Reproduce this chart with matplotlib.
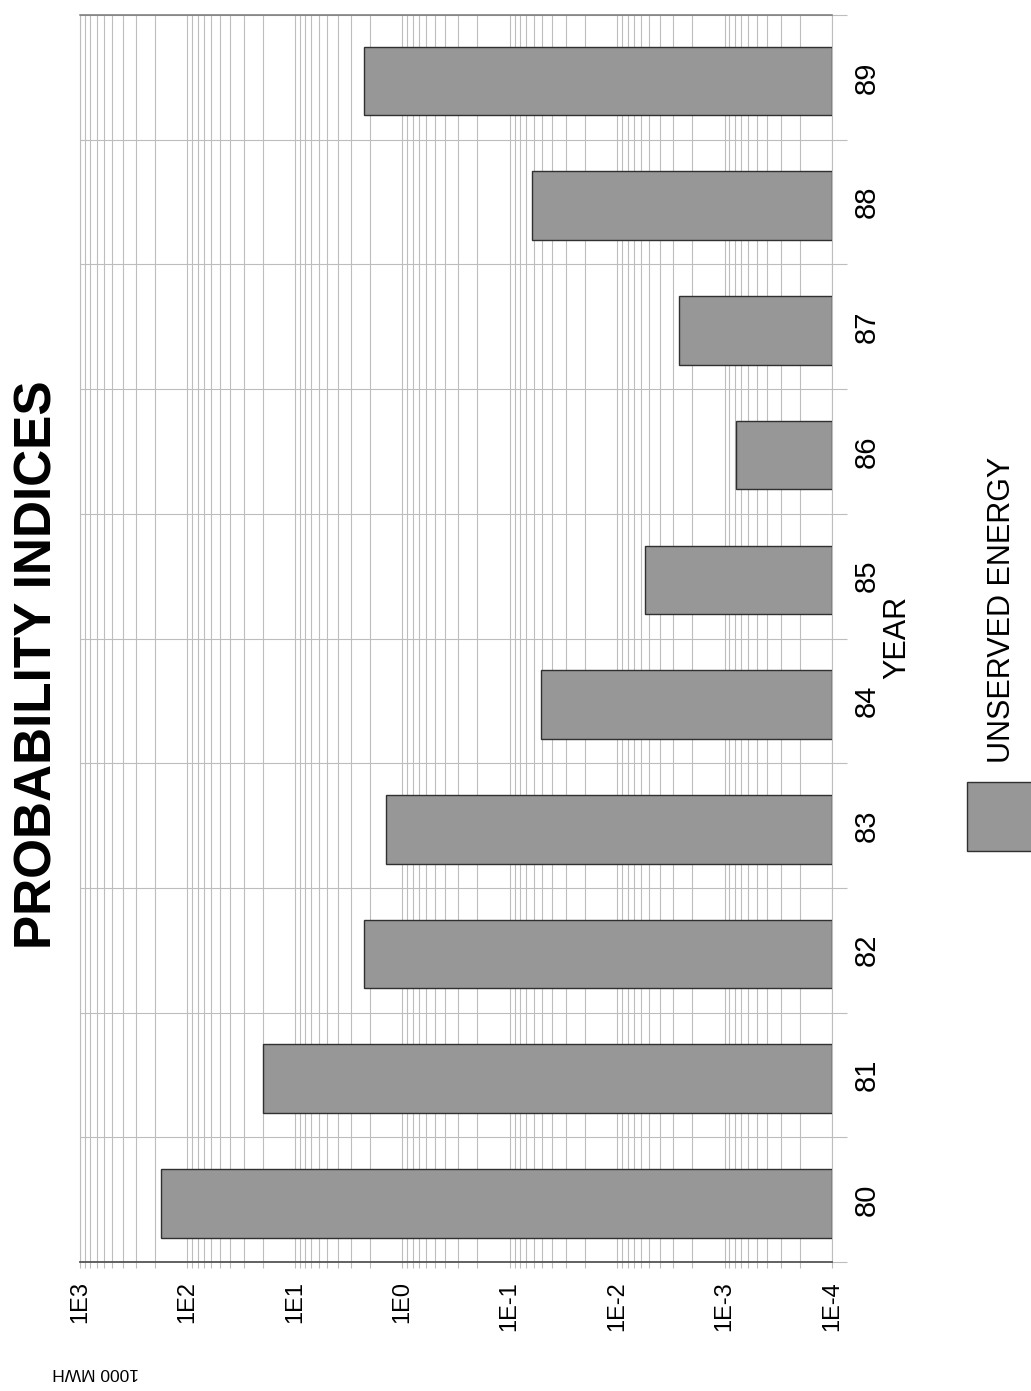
import matplotlib
matplotlib.use("Agg")
import matplotlib.pyplot as plt
from matplotlib.ticker import LogLocator, FixedLocator, NullFormatter
import numpy as np

plt.rcParams['font.family'] = ['Liberation Sans', 'DejaVu Sans']

# Unserved energy per year (1000 MWH)
years = ["80", "81", "82", "83", "84", "85", "86", "87", "88", "89"]
unserved_energy = [178, 19.6, 2.29, 1.41, 0.0516, 0.00545, 0.00078, 0.00263, 0.0622, 2.26]
decade_labels = ["1E3", "1E2", "1E1", "1E0", "1E-1", "1E-2", "1E-3", "1E-4"]
decade_values = [1e3, 1e2, 1e1, 1e0, 1e-1, 1e-2, 1e-3, 1e-4]

base = 1e-4
W, H = 1031, 1391
fig = plt.figure(figsize=(W / 100, H / 100), dpi=100)
fig.patch.set_facecolor("white")

ax = fig.add_axes([80 / W, 1 - 1262 / H, (832 - 80) / W, (1262 - 15) / H])
ax.set_xscale("log")
ax.set_xlim(1e3, base)
ax.set_ylim(-0.5, len(years) - 0.5)

grid_c = "#bdbdbd"

# log grid: every integer multiple in each decade
ax.xaxis.set_major_locator(FixedLocator(decade_values))
ax.xaxis.set_minor_locator(LogLocator(base=10, subs=np.arange(2, 10)))
ax.xaxis.set_minor_formatter(NullFormatter())
ax.set_xticks(decade_values)
ax.set_xticklabels(decade_labels, rotation=90, fontsize=17)
for lbl in ax.get_xticklabels():
    lbl.set_verticalalignment("top")
    lbl.set_horizontalalignment("center")
ax.tick_params(axis="x", which="both", direction="out", length=4, width=0.8,
               color=grid_c, pad=10)
ax.grid(True, axis="x", which="both", color=grid_c, linewidth=0.8)

# category axis on the right side, boundaries as gridlines
ypos = np.arange(len(years))
ax.yaxis.tick_right()
ax.set_yticks(ypos)
ax.set_yticklabels(years, rotation=90, fontsize=21)
for lbl in ax.get_yticklabels():
    lbl.set_horizontalalignment("left")
    lbl.set_verticalalignment("center")
ax.yaxis.set_minor_locator(FixedLocator(np.arange(-0.5, len(years), 1.0)))
ax.tick_params(axis="y", which="major", length=0, pad=15)
ax.tick_params(axis="y", which="minor", direction="out", length=11, width=0.8,
               color=grid_c, right=True, left=False)
ax.grid(True, axis="y", which="minor", color=grid_c, linewidth=0.8)
ax.set_axisbelow(True)

for side in ["left", "right"]:
    ax.spines[side].set_color(grid_c)
    ax.spines[side].set_linewidth(0.8)
ax.spines["bottom"].set_color("#555555")
ax.spines["bottom"].set_linewidth(1.3)
ax.spines["top"].set_color("#777777")
ax.spines["top"].set_linewidth(1.1)

bar_fc = "#979797"
bar_ec = "#303030"
widths = [v - base for v in unserved_energy]
ax.barh(ypos - 0.03, widths, left=base, height=0.55,
        color=bar_fc, edgecolor=bar_ec, linewidth=1.0, zorder=3)

# titles and labels
fig.text(38 / W, 1 - 665 / H, "PROBABILITY INDICES", rotation=90,
         ha="center", va="center", fontsize=37, fontweight="bold")
fig.text(897 / W, 1 - 637 / H, "YEAR", rotation=90,
         ha="center", va="center", fontsize=22)
fig.text(96 / W, 1 - 1372 / H, "1000 MWH", rotation=180,
         ha="center", va="center", fontsize=12.5)

# legend
fig.patches.append(plt.Rectangle((967 / W, 1 - 851 / H), 70 / W, 69 / H,
                                 transform=fig.transFigure, facecolor=bar_fc,
                                 edgecolor=bar_ec, linewidth=1.0))
fig.text(1002 / W, 1 - 610 / H, "UNSERVED ENERGY", rotation=90,
         ha="center", va="center", fontsize=22)

fig.savefig("out.png", dpi=100, facecolor="white")
